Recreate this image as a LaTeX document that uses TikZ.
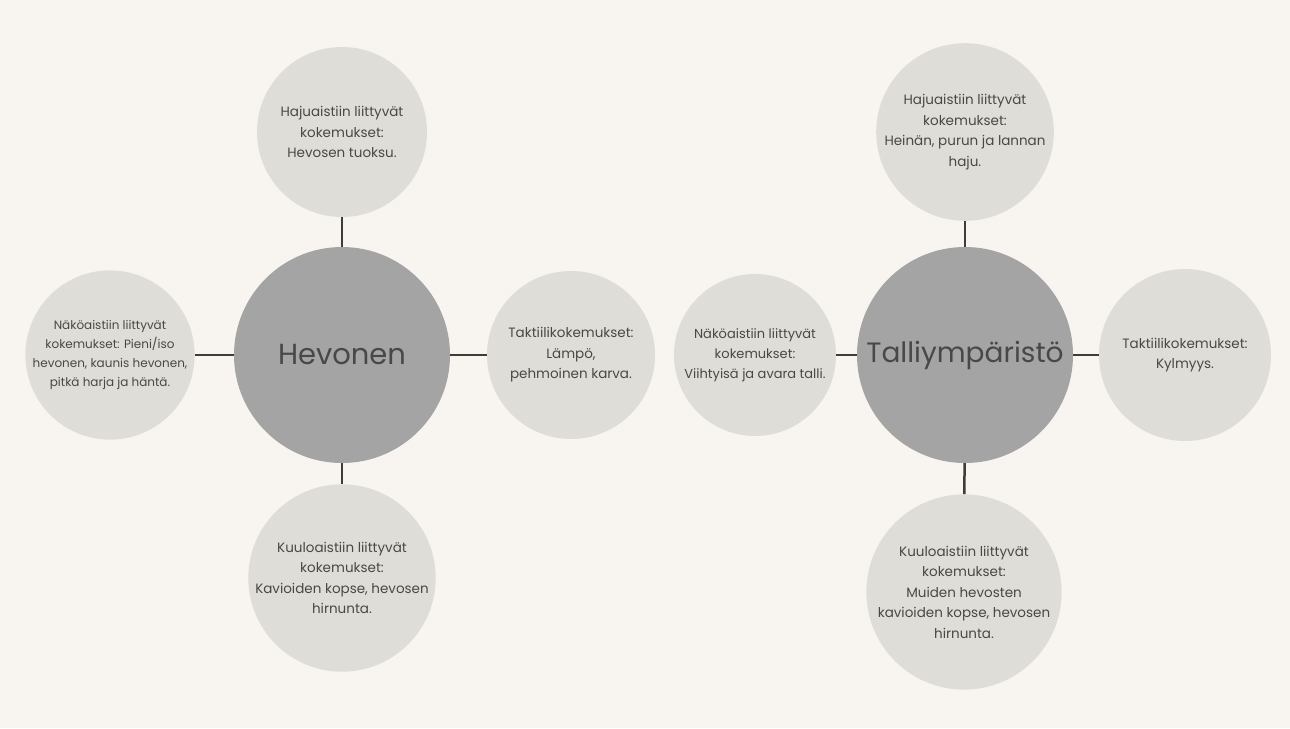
\documentclass[tikz,border=0pt]{standalone}
\usepackage{fontspec}
\setmainfont{Poppins}
\definecolor{paper}{HTML}{F8F5F0}
\definecolor{leaf}{HTML}{DEDDD7}
\definecolor{hub}{HTML}{A4A4A4}
\definecolor{ink}{HTML}{484846}
\definecolor{wire}{HTML}{3E3B38}
\begin{document}
\begin{tikzpicture}[x=1pt,y=-1pt,
  leafnode/.style={circle,fill=leaf,draw=none,inner sep=0pt,align=center,
    text=ink,font=\fontsize{13.5}{20.5}\selectfont},
  hubnode/.style={circle,fill=hub,draw=none,inner sep=0pt,minimum size=216pt},
  hubtext/.style={text=ink,inner sep=0pt},
  link/.style={draw=wire,line width=2.5pt}]
\fill[paper] (0,0) rectangle (1290,728);
\useasboundingbox (0,0) rectangle (1290,728);

% Hevonen group
\node[hubnode] (hev) at (342,355) {};
\node[hubtext,font=\fontsize{29}{34}\selectfont] (hevlabel) at (hev.center) {Hevonen};
\node[leafnode,minimum size=170pt] (hevtop) at (342,132) {Hajuaistiin liittyvät\\kokemukset:\\Hevosen tuoksu.};
\node[leafnode,minimum size=166pt,font=\fontsize{12}{19}\selectfont] (hevleft) at (110,355) {Näköaistiin liittyvät\\kokemukset: Pieni/iso\\hevonen, kaunis hevonen,\\pitkä harja ja häntä.};
\node[leafnode,minimum size=168pt] (hevright) at (571,355) {Taktiilikokemukset:\\Lämpö,\\pehmoinen karva.};
\node[leafnode,minimum size=184pt] (hevbot) at (342,578) {Kuuloaistiin liittyvät\\kokemukset:\\Kavioiden kopse, hevosen\\hirnunta.};

\draw[link] (hevtop) -- (hev);
\draw[link] (hevleft) -- (hev);
\draw[link] (hev) -- (hevright);
\draw[link] (hev) -- (hevbot);

% Talliympäristö group
\node[hubnode] (tal) at (965,355) {};
\node[hubtext,font=\fontsize{28}{34}\selectfont] (tallabel) at (tal.center) {Talliympäristö};
\node[leafnode,minimum size=170pt] (taltop) at (965,132) {Hajuaistiin liittyvät\\kokemukset:\\Heinän, purun ja lannan\\haju.};
\node[leafnode,minimum size=162pt,font=\fontsize{13}{20}\selectfont] (talleft) at (755,355) {Näköaistiin liittyvät\\kokemukset:\\Viihtyisä ja avara talli.};
\node[leafnode,minimum size=172pt] (talright) at (1185,355) {Taktiilikokemukset:\\Kylmyys.};
\node[leafnode,minimum size=192pt] (talbot) at (964,592) {Kuuloaistiin liittyvät\\kokemukset:\\Muiden hevosten\\kavioiden kopse, hevosen\\hirnunta.};

\draw[link] (taltop) -- (tal);
\draw[link] (talleft) -- (tal);
\draw[link] (tal) -- (talright);
\draw[link] (tal) -- (talbot);
\end{tikzpicture}
\end{document}
